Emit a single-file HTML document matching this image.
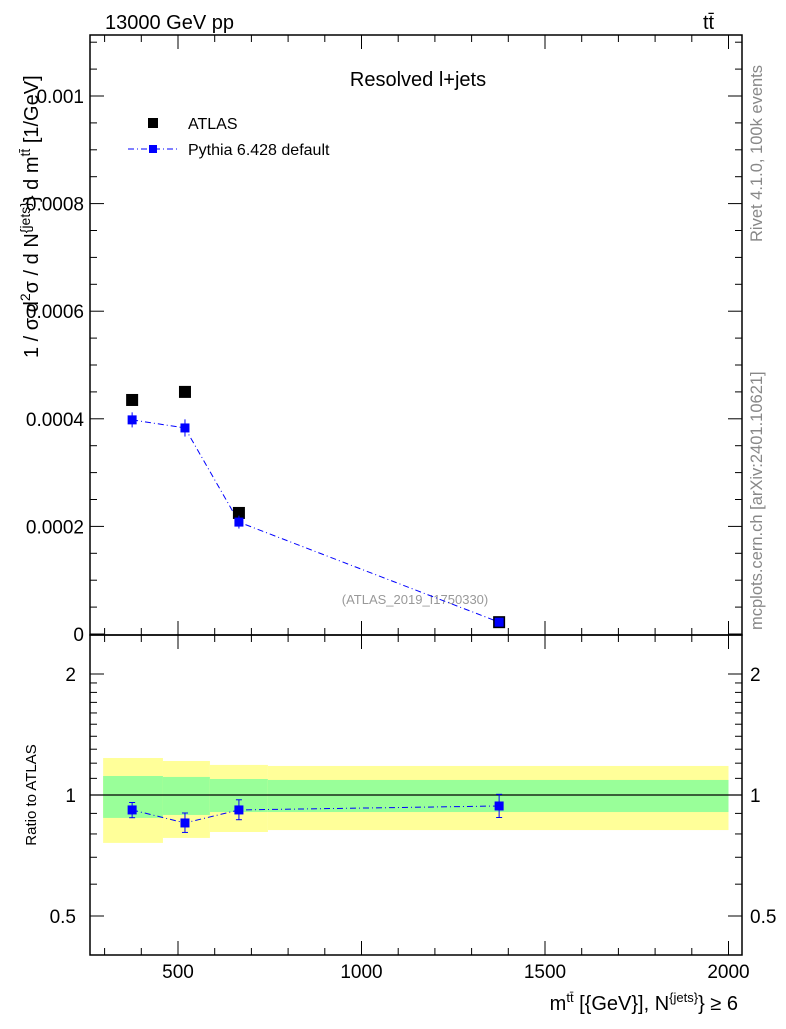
<!DOCTYPE html>
<html><head><meta charset="utf-8"><style>
body{margin:0;background:#fff}
svg{font-family:"Liberation Sans",sans-serif}
</style></head><body>
<svg id="c" width="786" height="1024" viewBox="0 0 786 1024">
<text x="105" y="29" font-size="20">13000 GeV pp</text>
<text x="703" y="29" font-size="20">tt̄</text>
<text x="418" y="86" font-size="20" text-anchor="middle">Resolved l+jets</text>
<text transform="translate(762,242) rotate(-90)" font-size="16.5" fill="#888">Rivet 4.1.0, 100k events</text>
<text transform="translate(762,630) rotate(-90)" font-size="16.5" fill="#888">mcplots.cern.ch [arXiv:2401.10621]</text>
<text x="415" y="604" font-size="13" fill="#999" text-anchor="middle">(ATLAS_2019_I1750330)</text>
<text transform="translate(38,358) rotate(-90)" font-size="20">1 / σ d<tspan font-size="14" dy="-8">2</tspan><tspan dy="8">σ / d N</tspan><tspan font-size="14" dy="-8">{jets}</tspan><tspan dy="8">} d m</tspan><tspan font-size="14" dy="-8">tt̄</tspan><tspan dy="8"> [1/GeV]</tspan></text>
<text transform="translate(36,795) rotate(-90)" font-size="15" text-anchor="middle">Ratio to ATLAS</text>
<text x="738" y="1010" font-size="20" text-anchor="end">m<tspan font-size="13" dy="-8">tt̄</tspan><tspan dy="8"> [{GeV}], N</tspan><tspan font-size="13" dy="-8">{jets}</tspan><tspan dy="8">} ≥ 6</tspan></text>
<g>
<rect x="148" y="118" width="10" height="10" fill="#000"/>
<text x="188" y="129" font-size="16">ATLAS</text>
<line x1="128" y1="149" x2="178" y2="149" stroke="#00f" stroke-dasharray="6,3,1,3"/>
<rect x="149" y="145" width="8" height="8" fill="#00f"/>
<text x="188" y="155" font-size="16">Pythia 6.428 default</text>
</g>
<g id="g"></g>
</svg>
<script>
const binEdges=[296,459,587,745,2000];
const xCenters=[375,519,666,1375];
const atlasVals=[0.000435,0.00045,0.000225,0.000022];
const pythiaVals=[0.000398,0.000383,0.000208,0.000022];
const pythiaErr=[0.000014,0.000016,0.000012,0.000003];
const ratioVals=[0.918,0.852,0.918,0.939];
const ratioErrUp=[0.04,0.05,0.055,0.065];
const ratioErrDn=[0.04,0.045,0.05,0.06];
const yellowHi=[1.236,1.215,1.188,1.181];
const yellowLo=[0.760,0.782,0.809,0.818];
const greenHi=[1.115,1.109,1.096,1.090];
const greenLo=[0.877,0.892,0.907,0.907];
const yTicks=[0,0.0002,0.0004,0.0006,0.0008,0.001];
const yTickLabels=["0","0.0002","0.0004","0.0006","0.0008","0.001"];
const xTicks=[500,1000,1500,2000];
const rTicks=[0.5,1,2];
const L=90,R=742,T1=35,B1=635,B2=955;
const sx=v=>178+(v-500)*0.367;
const sy=v=>634-v*538000;
const sr=r=>795-121*Math.log2(r);
const NS="http://www.w3.org/2000/svg";
const g=document.getElementById('g');
function mk(t,a,name){const e=document.createElementNS(NS,t);for(const k in a)e.setAttribute(k,a[k]);


g.appendChild(e);return e;}
for(let i=0;i<4;i++){
 mk('rect',{x:sx(binEdges[i]),y:sr(yellowHi[i]),width:sx(binEdges[i+1])-sx(binEdges[i]),height:sr(yellowLo[i])-sr(yellowHi[i]),fill:'#ffff99'},'yellow-band-'+i);
 mk('rect',{x:sx(binEdges[i]),y:sr(greenHi[i]),width:sx(binEdges[i+1])-sx(binEdges[i]),height:sr(greenLo[i])-sr(greenHi[i]),fill:'#99ff99'},'green-band-'+i);
}
mk('line',{x1:L,x2:R,y1:sr(1),y2:sr(1),stroke:'#000','stroke-width':1.2},'ratio-reference-line');
mk('rect',{x:L,y:T1,width:R-L,height:B1-T1,fill:'none',stroke:'#000','stroke-width':1.5},'main-frame');
mk('rect',{x:L,y:B1,width:R-L,height:B2-B1,fill:'none',stroke:'#000','stroke-width':1.5},'ratio-frame');
for(let v=300;v<=2000;v+=100){const big=v%500==0,len=big?14:7;
 for(const [yb,yt] of [[B1,T1],[B2,B1]]){
  mk('line',{x1:sx(v),x2:sx(v),y1:yb,y2:yb-len,stroke:'#000'},'x-tick');
  mk('line',{x1:sx(v),x2:sx(v),y1:yt,y2:yt+len,stroke:'#000'},'x-tick-top');}}
xTicks.forEach(v=>{const t=mk('text',{x:sx(v),y:978,'font-size':19,'text-anchor':'middle'},'x-tick-label');t.textContent=v;});
for(let v=0;v<=0.0011;v+=0.00005){const big=Math.abs(v/0.0002-Math.round(v/0.0002))<1e-6,len=big?14:7;
 mk('line',{x1:L,x2:L+len,y1:sy(v),y2:sy(v),stroke:'#000'},'y-tick');
 mk('line',{x1:R,x2:R-len,y1:sy(v),y2:sy(v),stroke:'#000'},'y-tick-right');}
yTicks.forEach((v,i)=>{const t=mk('text',{x:84,y:sy(v)+7,'font-size':19,'text-anchor':'end'},'y-tick-label');t.textContent=yTickLabels[i];});
for(const r of [0.5,0.6,0.7,0.8,0.9,1,1.1,1.2,1.3,1.4,1.5,1.6,1.7,1.8,1.9,2]){const big=rTicks.includes(r),len=big?14:7;
 mk('line',{x1:L,x2:L+len,y1:sr(r),y2:sr(r),stroke:'#000'},'ratio-tick');
 mk('line',{x1:R,x2:R-len,y1:sr(r),y2:sr(r),stroke:'#000'},'ratio-tick-right');}
rTicks.forEach(r=>{const t=mk('text',{x:76,y:sr(r)+7,'font-size':19,'text-anchor':'end'},'ratio-tick-label');t.textContent=r;
 const t2=mk('text',{x:750,y:sr(r)+7,'font-size':19},'ratio-tick-label-right');t2.textContent=r;});
mk('polyline',{points:xCenters.map((x,i)=>sx(x)+','+sy(pythiaVals[i])).join(' '),fill:'none',stroke:'#00f','stroke-dasharray':'6,3,1,3'},'pythia-line');
xCenters.forEach((x,i)=>{
 mk('rect',{x:sx(x)-6,y:sy(atlasVals[i])-6,width:12,height:12,fill:'#000'},'atlas-point');
 mk('line',{x1:sx(x),x2:sx(x),y1:sy(pythiaVals[i]+pythiaErr[i]),y2:sy(pythiaVals[i]-pythiaErr[i]),stroke:'#00f'},'pythia-error');
 mk('rect',{x:sx(x)-4.5,y:sy(pythiaVals[i])-4.5,width:9,height:9,fill:'#00f'},'pythia-point');
});
mk('polyline',{points:xCenters.map((x,i)=>sx(x)+','+sr(ratioVals[i])).join(' '),fill:'none',stroke:'#00f','stroke-dasharray':'6,3,1,3'},'ratio-line');
xCenters.forEach((x,i)=>{
 const a=sr(ratioVals[i]+ratioErrUp[i]),b=sr(ratioVals[i]-ratioErrDn[i]);
 mk('line',{x1:sx(x),x2:sx(x),y1:a,y2:b,stroke:'#00f'},'ratio-error');
 mk('line',{x1:sx(x)-3,x2:sx(x)+3,y1:a,y2:a,stroke:'#00f'},'ratio-error-cap');
 mk('line',{x1:sx(x)-3,x2:sx(x)+3,y1:b,y2:b,stroke:'#00f'},'ratio-error-cap');
 mk('rect',{x:sx(x)-4.5,y:sr(ratioVals[i])-4.5,width:9,height:9,fill:'#00f'},'ratio-point');
});
</script>
</body></html>
